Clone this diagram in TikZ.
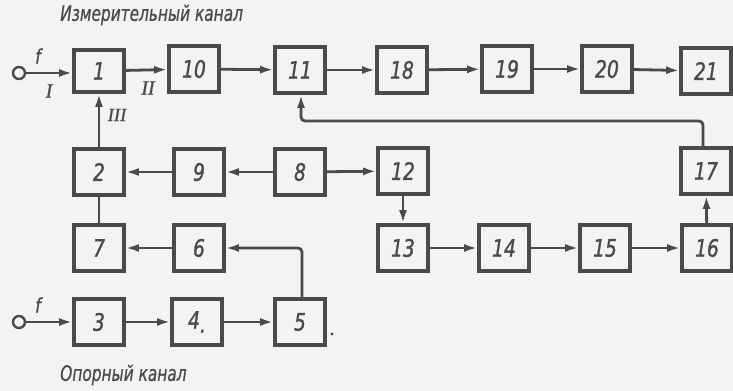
\documentclass[tikz,border=0pt]{standalone}
\usepackage{fontspec}
\setmainfont{DejaVu Sans}
\newfontfamily\numfont[FakeStretch=0.78,FakeBold=1.2]{DejaVu Sans}
\newfontfamily\ttlfont[FakeStretch=0.72,FakeBold=0.6]{DejaVu Sans}
\newfontfamily\romfont[FakeBold=0.8]{Liberation Serif}
\usetikzlibrary{arrows.meta}
\definecolor{ink}{HTML}{4A4A4A}
\definecolor{paper}{HTML}{F3F3F1}
\tikzset{
  blk/.style={draw=ink, line width=2.8pt, minimum width=37pt, minimum height=34pt, inner sep=0pt,
    font=\numfont\fontsize{18}{18}\selectfont\itshape, text=ink},
  conn/.style={draw=ink, line width=2.1pt, -{Latex[length=10pt,width=6pt]}},
  plain/.style={draw=ink, line width=2.1pt},
  lbl/.style={text=ink, inner sep=0pt},
  ttl/.style={text=ink, inner sep=0pt, font=\ttlfont\fontsize{16}{16}\selectfont\itshape},
  term/.style={draw=ink, line width=1.8pt, circle, minimum size=9pt, inner sep=0pt, fill=paper}
}
\begin{document}
\begin{tikzpicture}[x=0.75pt,y=-0.75pt]
\fill[paper] (0,0) rectangle (733,391);
\useasboundingbox (0,0) rectangle (733,391);
% row 1
\node[blk, minimum height=31pt] (b1) at (99,71) {1};
\node[blk] (b10) at (194,69) {10};
\node[blk] (b11) at (300,70) {11};
\node[blk] (b18) at (402,70) {18};
\node[blk] (b19) at (507,69) {19};
\node[blk] (b20) at (607,69) {20};
\node[blk] (b21) at (706,71) {21};
% row 2
\node[blk] (b2) at (99,172) {2};
\node[blk] (b9) at (199,172) {9};
\node[blk] (b8) at (300,172) {8};
\node[blk] (b12) at (403,171) {12};
\node[blk] (b17) at (706,171) {17};
% row 3
\node[blk] (b7) at (99,248) {7};
\node[blk] (b6) at (199,248) {6};
\node[blk] (b13) at (403,248) {13};
\node[blk] (b14) at (504,248) {14};
\node[blk] (b15) at (605,248) {15};
\node[blk] (b16) at (707,248) {16};
% row 4
\node[blk] (b3) at (99,322) {3};
\node[blk] (b4) at (197,322) {4\raisebox{-3pt}{.}};
\node[blk] (b5) at (300,322) {5};
\fill[ink] (332,334) circle (1.6);
% terminals
\node[term] (t1) at (19,73) {};
\node[term] (t2) at (19,322) {};
% connectors row 1
\draw[conn] (t1) -- (b1.west |- t1);
\draw[conn] (b1) -- (b10);
\draw[conn] (b10) -- (b11);
\draw[conn] (b11) -- (b18);
\draw[conn] (b18) -- (b19);
\draw[conn] (b19) -- (b20);
\draw[conn] (b20) -- (b21);
% row 2 / 3
\draw[conn] (b2) -- (b1);
\draw[plain] (b7) -- (b2);
\draw[conn] (b9) -- (b2);
\draw[conn] (b8) -- (b9);
\draw[conn] (b8) -- (b12);
\draw[conn] (b12) -- (b13);
\draw[conn] (b13) -- (b14);
\draw[conn] (b14) -- (b15);
\draw[conn] (b15) -- (b16);
\draw[conn] (b16) -- (b17);
\draw[conn] (b6) -- (b7);
\coordinate (fbR) at (703,121);
\coordinate (fbL) at (301,121);
\draw[conn, rounded corners=3pt] (b17.north -| fbR) -- (fbR) -- (fbL) -- (b11.south -| fbL);
\coordinate (c5) at (302,248);
\draw[conn, rounded corners=3pt] (b5.north -| c5) -- (c5) -- (b6.east);
% row 4
\draw[conn] (t2) -- (b3);
\draw[conn] (b3) -- (b4);
\draw[conn] (b4) -- (b5);
% labels
\node[lbl, font=\numfont\fontsize{15}{15}\selectfont\itshape] (f1) at (38,56) {f};
\node[lbl, font=\numfont\fontsize{15}{15}\selectfont\itshape] (f2) at (38,305) {f};
\node[lbl, font=\romfont\fontsize{15}{15}\selectfont\itshape] (r1) at (49,91) {I};
\node[lbl, font=\romfont\fontsize{15}{15}\selectfont\itshape] (r2) at (148,88) {II};
\node[lbl, font=\romfont\fontsize{14}{14}\selectfont\itshape] (r3) at (117,115) {III};
\node[ttl, anchor=west] (t_top) at (60,15) {Измерительный канал};
\node[ttl, anchor=west] (t_bot) at (60,375) {Опорный канал};
\end{tikzpicture}
\end{document}
